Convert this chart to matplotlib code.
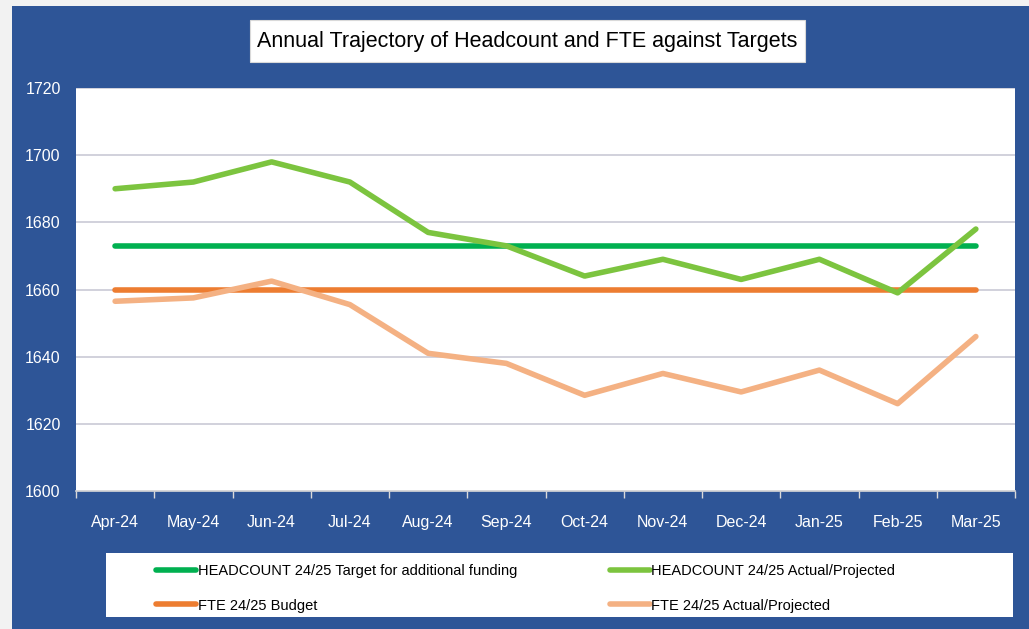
import matplotlib
matplotlib.use('Agg')
import matplotlib.pyplot as plt
from matplotlib.patches import Rectangle

plt.rcParams['font.family'] = ['Liberation Sans Narrow', 'Liberation Sans', 'DejaVu Sans']

months = ['Apr-24', 'May-24', 'Jun-24', 'Jul-24', 'Aug-24', 'Sep-24',
          'Oct-24', 'Nov-24', 'Dec-24', 'Jan-25', 'Feb-25', 'Mar-25']
hc_target = [1673] * 12
hc_actual = [1690, 1692, 1698, 1692, 1677, 1673, 1664, 1669, 1663, 1669, 1659, 1678]
fte_budget = [1660] * 12
fte_actual = [1656.5, 1657.5, 1662.5, 1655.5, 1641, 1638, 1628.5, 1635, 1629.5, 1636, 1626, 1646]

blue = '#2E5597'
W, H = 1029, 629

fig = plt.figure(figsize=(W / 100, H / 100), dpi=100)
fig.patch.set_facecolor('#F2F2F2')
fig.patches.append(Rectangle((12 / W, 0), 1, 1 - 6 / H, transform=fig.transFigure,
                             facecolor=blue, edgecolor='none', zorder=-5))

# title box
fig.patches.append(Rectangle((250 / W, 1 - 62 / H), 555 / W, 42 / H, transform=fig.transFigure,
                             facecolor='white', edgecolor='#D9D9D9', lw=0.8, zorder=1))
fig.text(527 / W, 1 - 42 / H, 'Annual Trajectory of Headcount and FTE against Targets',
         ha='center', va='center', fontsize=15.5, color='black', zorder=2)

ax = fig.add_axes([76 / W, 1 - 491 / H, 939 / W, 403 / H])
ax.set_facecolor('white')
x = range(len(months))
ax.plot(x, hc_target, color='#00B050', lw=4, solid_capstyle='round',
        label='HEADCOUNT 24/25 Target for additional funding', zorder=3)
ax.plot(x, hc_actual, color='#7CC43F', lw=4, solid_capstyle='round',
        label='HEADCOUNT 24/25 Actual/Projected', zorder=4)
ax.plot(x, fte_budget, color='#ED7D31', lw=4, solid_capstyle='round',
        label='FTE 24/25 Budget', zorder=3)
ax.plot(x, fte_actual, color='#F4B183', lw=4, solid_capstyle='round',
        label='FTE 24/25 Actual/Projected', zorder=4)

ax.set_xlim(-0.5, len(months) - 0.5)
ax.set_ylim(1600, 1720)
ax.set_yticks(range(1600, 1721, 20))
ax.grid(axis='y', color='#C9C9D6', lw=1.2)
ax.set_axisbelow(True)
ax.set_xticks(list(x))
ax.set_xticklabels(months)
ax.set_xticks([i - 0.5 for i in range(len(months) + 1)], minor=True)
ax.tick_params(axis='x', which='major', length=0, pad=17, labelsize=11.5, colors='white')
ax.tick_params(axis='x', which='minor', length=5, color='#D9D9D9', width=1)
ax.tick_params(axis='y', length=0, pad=11, labelsize=11.5, colors='white')
for s in ['top', 'right', 'left']:
    ax.spines[s].set_visible(False)
ax.spines['bottom'].set_color('#D9D9D9')
ax.spines['bottom'].set_linewidth(1.2)

# legend box
fig.patches.append(Rectangle((106 / W, 1 - 617 / H), 907 / W, 64 / H, transform=fig.transFigure,
                             facecolor='white', edgecolor='none', zorder=1))
handles, labels = ax.get_legend_handles_labels()
order = [0, 2, 1, 3]
leg = fig.legend([handles[i] for i in order], [labels[i] for i in order], ncol=2,
                 loc='upper left', bbox_to_anchor=(143 / W, 1 - 551 / H), frameon=False,
                 fontsize=10.5, handlelength=2.75, handletextpad=0.1,
                 columnspacing=6.35, labelspacing=1.4)

fig.savefig('out.png', dpi=100, facecolor=fig.get_facecolor())
